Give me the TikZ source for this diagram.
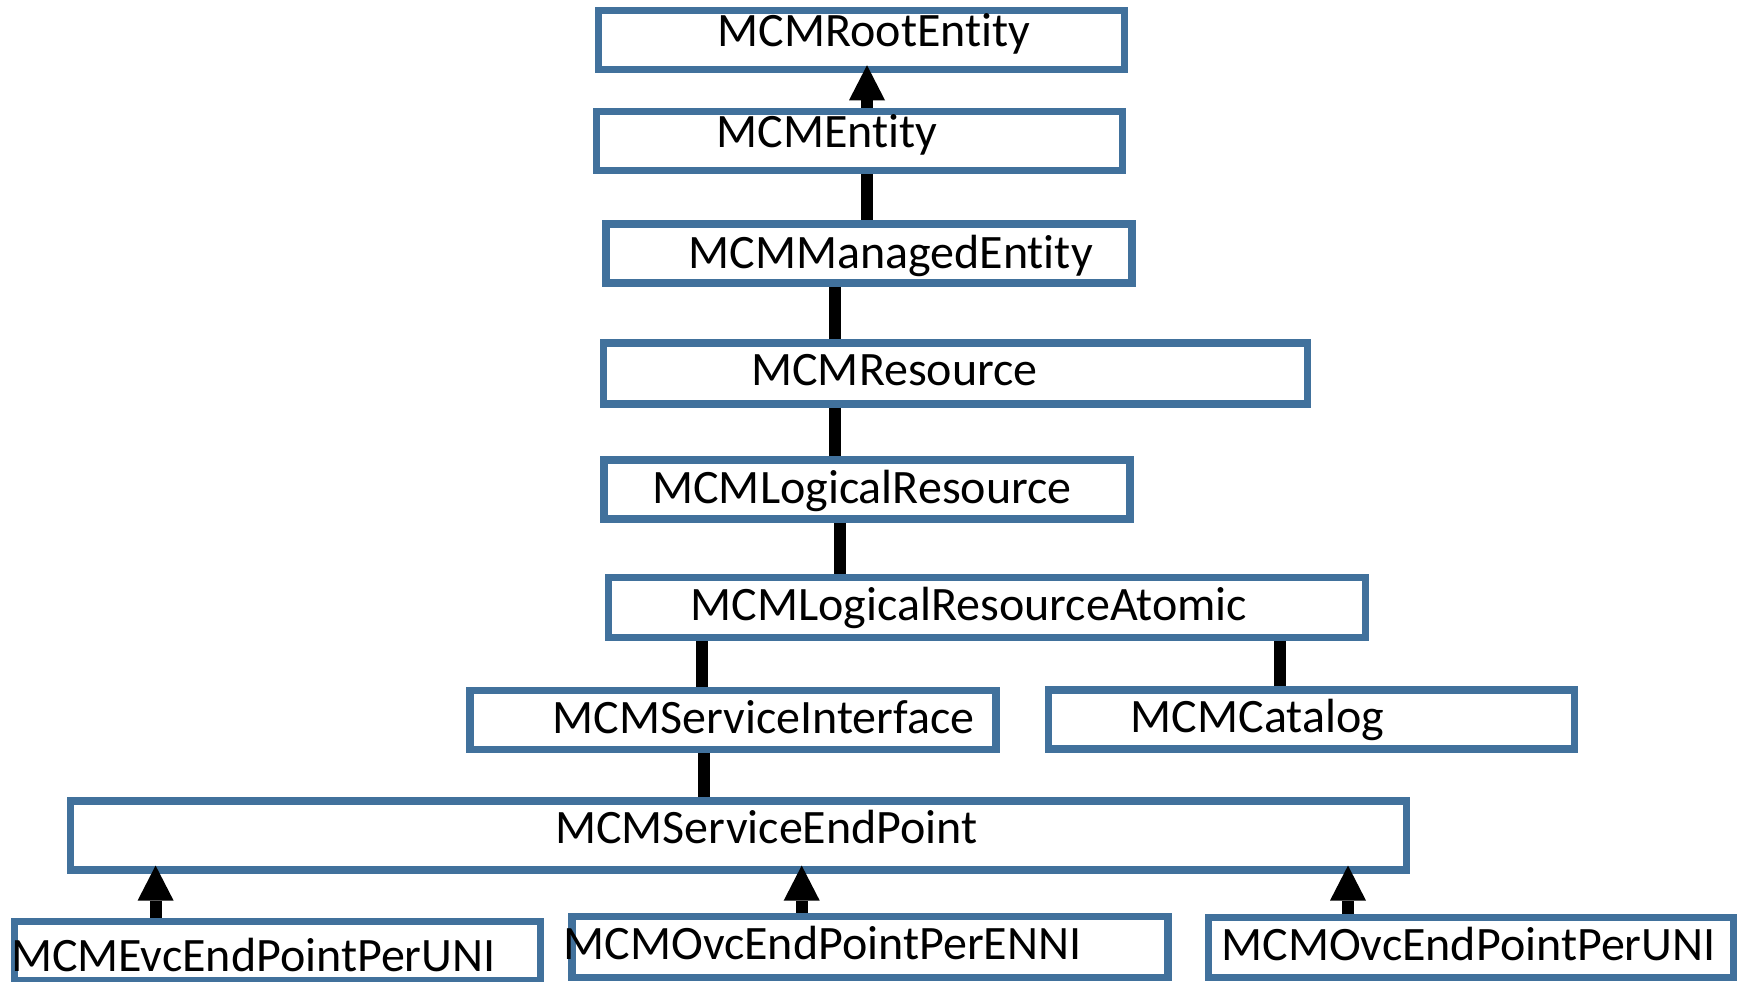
\documentclass[tikz,border=0pt]{standalone}
\usepackage{fontspec}
\setmainfont{Carlito}[Ligatures={NoCommon,NoContextual}]
\usetikzlibrary{arrows.meta}
\definecolor{clsblue}{RGB}{65,113,156}
\begin{document}
\begin{tikzpicture}[
  x=0.5pt, y=-0.5pt,
  cls/.style={draw=clsblue, line width=3.75pt, fill=white, inner sep=0pt,
    minimum width=263pt, minimum height=29.5pt},
  lbl/.style={anchor=base, inner sep=0pt, font=\fontsize{24}{28}\selectfont},
  link/.style={line width=6pt},
  isa/.style={line width=6pt, shorten >=-4pt,
    -{Triangle[length=17.5pt, width=18pt, line width=0pt]}}
]
  \useasboundingbox (0,0) rectangle (1741,981);

  % Class boxes
  \node[cls] (root) at (861.5,40) {};
  \node[cls] (entity) at (859.25,140.75) {};
  \node[cls] (managed) at (869,253.5) {};
  \node[cls, minimum width=352pt, minimum height=30.5pt] (resource) at (955.5,373.5) {};
  \node[cls] (logical) at (867,489.5) {};
  \node[cls, minimum width=378.5pt, minimum height=30pt] (atomic) at (987,607.5) {};
  \node[cls] (svcif) at (733,719.75) {};
  \node[cls] (catalog) at (1311.5,719.25) {};
  \node[cls, minimum width=668pt, minimum height=34.5pt] (svcep) at (738.5,835.3) {};
  \node[cls] (evcuni) at (277.5,951) {};
  \node[cls, minimum width=298pt, minimum height=30.5pt] (ovcenni) at (870,947) {};
  \node[cls, minimum width=262.5pt, minimum height=30pt] (ovcuni) at (1471,947.5) {};

  % Class names
  \node[lbl] (root-t) at (874,46.5) {MCMRootEntity};
  \node[lbl] (entity-t) at (827,147.5) {MCMEntity};
  \node[lbl] (managed-t) at (890.6,268) {MCMManagedEntity};
  \node[lbl] (resource-t) at (894.5,385) {MCMResource};
  \node[lbl] (logical-t) at (862,503) {MCMLogicalResource};
  \node[lbl] (atomic-t) at (969,620) {MCMLogicalResourceAtomic};
  \node[lbl] (svcif-t) at (763.5,733) {MCMServiceInterface};
  \node[lbl] (catalog-t) at (1257.5,732) {MCMCatalog};
  \node[lbl] (svcep-t) at (766.5,843.5) {MCMServiceEndPoint};
  \node[lbl] (evcuni-t) at (253.3,971) {MCMEvcEndPointPerUNI};
  \node[lbl] (ovcenni-t) at (822.5,959) {MCMOvcEndPointPerENNI};
  \node[lbl] (ovcuni-t) at (1468.5,960) {MCMOvcEndPointPerUNI};

  % Links
  \draw[isa] (entity.north -| 867,0) -- (root.south -| 867,0);
  \draw[link] (entity.south -| 867,0) -- (managed.north -| 867,0);
  \draw[link] (managed.south -| 835,0) -- (resource.north -| 835,0);
  \draw[link] (resource.south -| 835,0) -- (logical.north -| 835,0);
  \draw[link] (logical.south -| 839.6,0) -- (atomic.north -| 839.6,0);
  \draw[link] (atomic.south -| 702,0) -- (svcif.north -| 702,0);
  \draw[link] (atomic.south -| 1280,0) -- (catalog.north -| 1280,0);
  \draw[link] (svcif.south -| 704,0) -- (svcep.north -| 704,0);
  \draw[isa] (evcuni.north -| 155.6,0) -- (svcep.south -| 155.6,0);
  \draw[isa] (ovcenni.north -| 801.7,0) -- (svcep.south -| 801.7,0);
  \draw[isa] (ovcuni.north -| 1348,0) -- (svcep.south -| 1348,0);
\end{tikzpicture}
\end{document}
